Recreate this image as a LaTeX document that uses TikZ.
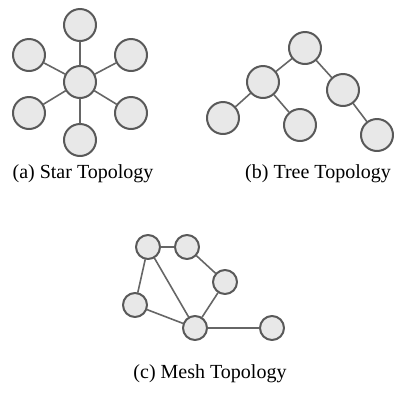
\documentclass[tikz,border=0pt]{standalone}
\usepackage{fontspec}
\setmainfont{Liberation Serif}
\begin{document}
\begin{tikzpicture}[x=0.5pt,y=-0.5pt,font=\normalsize, line join=round, line cap=round,
		big/.style={circle,draw=black!65,line width=1pt,fill=gray!18,minimum size=16pt,inner sep=0pt},
		small/.style={circle,draw=black!65,line width=1pt,fill=gray!18,minimum size=12pt,inner sep=0pt},
		link/.style={draw=black!60,line width=0.8pt}]
		\useasboundingbox (0,0) rectangle (394,397);
		% star
		\node[big] (hub) at (80,82) {};
		\node[big] (s1) at (80,25) {};
		\node[big] (s2) at (131,55) {};
		\node[big] (s3) at (131,113) {};
		\node[big] (s4) at (80,140) {};
		\node[big] (s5) at (29,113) {};
		\node[big] (s6) at (29,55) {};
		\draw[link] (hub)--(s1) (hub)--(s2) (hub)--(s3) (hub)--(s4) (hub)--(s5) (hub)--(s6);
		\node (capa) at (83,174) {(a) Star Topology};
		% tree
		\node[big] (root) at (305,48) {};
		\node[big] (tl) at (263,82) {};
		\node[big] (tr) at (343,90) {};
		\node[big] (tll) at (223,118) {};
		\node[big] (tlr) at (300,125) {};
		\node[big] (trr) at (377,135) {};
		\draw[link] (root)--(tl) (root)--(tr) (tl)--(tll) (tl)--(tlr) (tr)--(trr);
		\node (capb) at (318,174) {(b) Tree Topology};
		% mesh
		\node[small] (ma) at (148,247) {};
		\node[small] (mb) at (187,247) {};
		\node[small] (mc) at (225,282) {};
		\node[small] (md) at (135,305) {};
		\node[small] (me) at (195,328) {};
		\node[small] (mf) at (272,328) {};
		\draw[link] (ma)--(mb) (mb)--(mc) (mc)--(me) (ma)--(md) (ma)--(me) (md)--(me) (me)--(mf);
		\node (capc) at (210,374) {(c) Mesh Topology};
		\end{tikzpicture}
\end{document}
